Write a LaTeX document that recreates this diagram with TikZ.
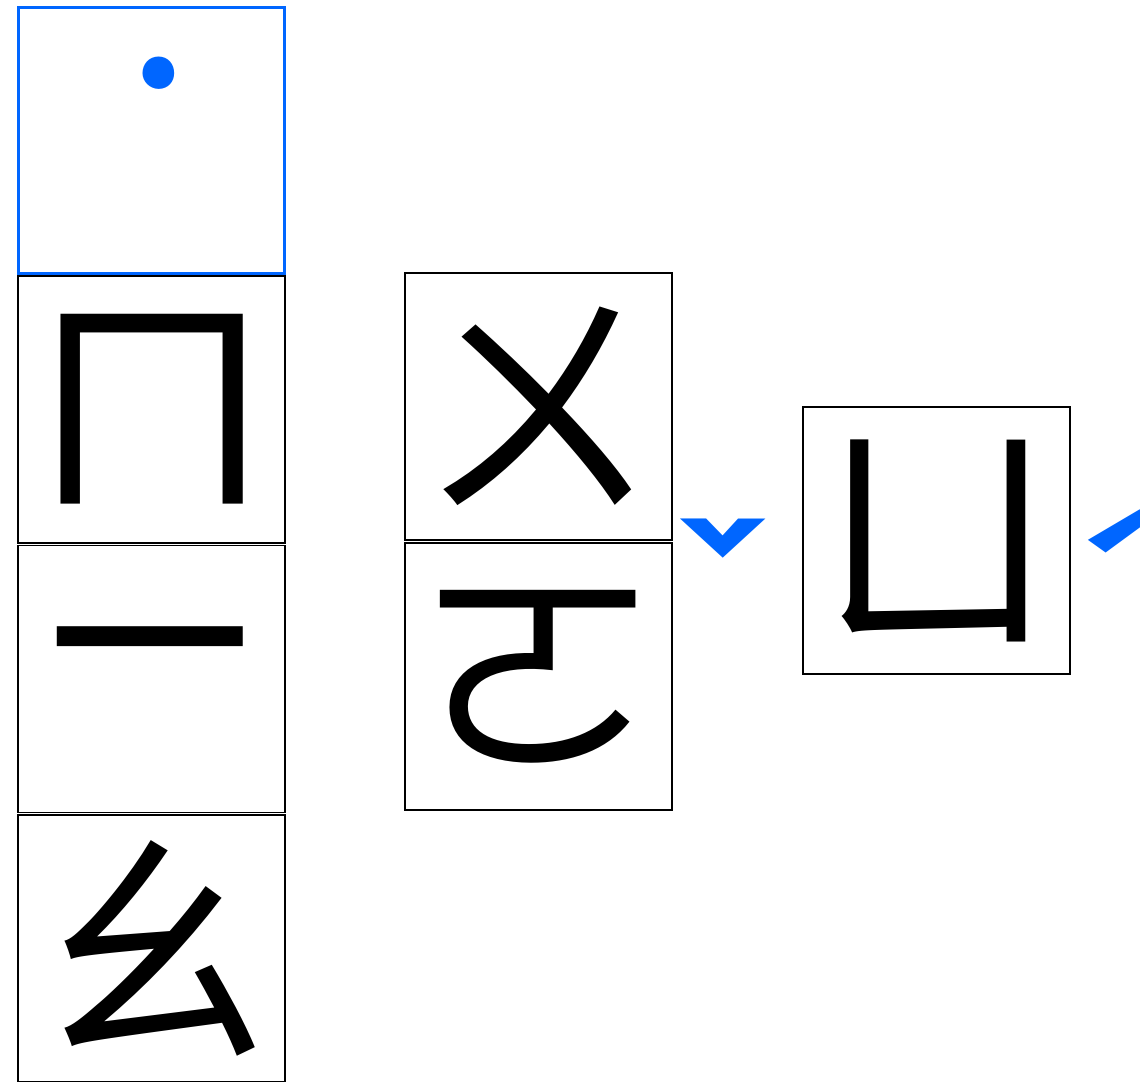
\documentclass[tikz,border=0pt]{standalone}
\usepackage{fontspec}
\newfontfamily\zhuyin{Noto Sans CJK TC}
\usetikzlibrary{positioning}
\definecolor{toneblue}{RGB}{0,102,255}
\tikzset{
    cell/.style={
        rectangle,
        draw=black, line width=1.1pt,
        minimum size=5.34cm,
        inner sep=0pt,
        font={\zhuyin\fontsize{140pt}{140pt}\selectfont}
    },
    tonecell/.style={cell, draw=toneblue, line width=1.7pt},
    tone/.style={
        text=toneblue,
        inner sep=0pt,
        font={\zhuyin\bfseries\fontsize{85pt}{85pt}\selectfont}
    },
}
\begin{document}
\begin{tikzpicture}[x=0.02cm, y=-0.02cm]
\useasboundingbox (0,0) rectangle (1140,1082);

% first column, neutral tone on top
\node [tonecell] (cell-0) at (151.5,140.5) {};
\foreach \g/\y [count=\i] in {ㄇ/409.5, ㄧ/679, ㄠ/948}
  \node [cell] (cell-\i) at (151.5,\y) {\g};

% second column
\foreach \g/\y [count=\i] in {ㄨ/406.5, ㄛ/676.5}
  \node [cell] (mid-\i) at (538.5,\y) {\g};

% third column
\node [cell] (last) at (936.5,540.5) {ㄩ};

% tone marks
\node [tone] (neutral) at (159,94) {˙};
\node [tone] (third) at (723,556) {\scalebox{0.95}[0.6]{ˇ}};
\node [tone] (second) at (1120,553) {\scalebox{1}[0.68]{ˊ}};

\end{tikzpicture}
\end{document}
